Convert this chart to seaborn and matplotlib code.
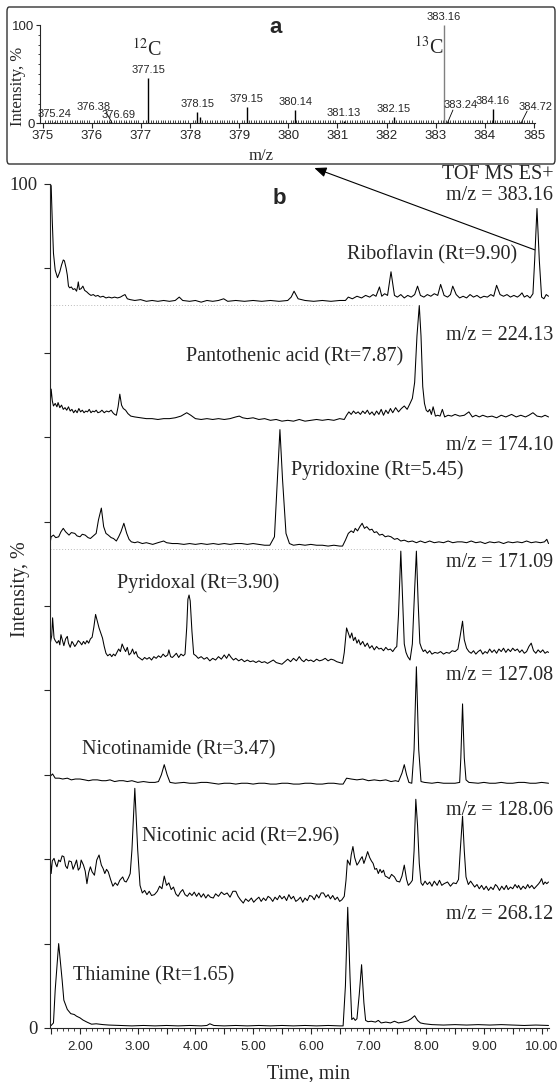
import numpy as np
import pandas as pd
import matplotlib
matplotlib.use('Agg')
import matplotlib.pyplot as plt
import seaborn as sns
from matplotlib.patches import FancyBboxPatch, ConnectionPatch
from matplotlib.ticker import FixedLocator, MultipleLocator, FuncFormatter

# ---------------- data: panel a (mass spectrum) ----------------
MZ = [375.24, 376.38, 376.69, 377.15, 378.15, 378.20, 379.15, 380.14, 381.13, 382.15,
      383.16, 383.24, 384.16, 384.72]
MZ_INT = [1.0, 1.2, 1.0, 45.8, 11.2, 6.5, 16.3, 13.5, 2.5, 6.1, 100.0, 1.5, 14.5, 1.2]
MZ_TEXT = ['375.24', '376.38', '376.69', '377.15', '378.15', '', '379.15', '380.14', '381.13',
           '382.15', '383.16', '383.24', '384.16', '384.72']
A_XTICKS = [375, 376, 377, 378, 379, 380, 381, 382, 383, 384, 385]
A_YTICKS = [0, 100]

# ---------------- data: panel b (chromatograms), (time, intensity) ----------------
RIBOFLAVIN = [(1.48, 100.0), (1.50, 99.8), (1.52, 95.5), (1.54, 91.8), (1.57, 89.8), (1.61, 88.9), (1.65, 89.6),
    (1.68, 90.4), (1.71, 91.0), (1.73, 90.9), (1.76, 90.0), (1.78, 89.2), (1.80, 87.9), (1.82, 87.7), (1.85, 87.8),
    (1.88, 87.5), (1.91, 87.6), (1.94, 87.3), (1.96, 87.9), (1.97, 88.4), (1.99, 87.5), (2.02, 87.6), (2.05, 87.9),
    (2.08, 87.4), (2.12, 87.2), (2.15, 87.0), (2.19, 86.8), (2.23, 86.9), (2.27, 86.7), (2.31, 86.8), (2.35, 86.6),
    (2.40, 86.7), (2.45, 86.5), (2.50, 86.6), (2.55, 86.5), (2.60, 86.6), (2.65, 86.5), (2.70, 86.6), (2.75, 86.8),
    (2.78, 86.9), (2.82, 86.4), (2.87, 86.3), (2.95, 86.2), (3.05, 86.3), (3.15, 86.1), (3.25, 86.2), (3.35, 86.1),
    (3.45, 86.2), (3.55, 86.1), (3.65, 86.2), (3.72, 86.6), (3.78, 86.2), (3.90, 86.1), (4.00, 86.2), (4.10, 86.0),
    (4.20, 86.2), (4.30, 86.1), (4.40, 86.2), (4.49, 86.4), (4.56, 86.1), (4.70, 86.2), (4.85, 86.1), (5.00, 86.2),
    (5.15, 86.1), (5.30, 86.2), (5.45, 86.1), (5.60, 86.2), (5.66, 86.6), (5.71, 87.3), (5.78, 86.4), (5.90, 86.2),
    (6.05, 86.1), (6.20, 86.2), (6.35, 86.1), (6.50, 86.2), (6.60, 86.2), (6.65, 86.6), (6.72, 86.4), (6.80, 86.7),
    (6.88, 86.5), (6.95, 86.8), (7.02, 86.6), (7.08, 86.9), (7.13, 86.7), (7.19, 87.8), (7.23, 86.7), (7.28, 87.0),
    (7.33, 86.8), (7.39, 89.6), (7.45, 86.8), (7.50, 86.6), (7.56, 86.9), (7.62, 86.5), (7.68, 86.8), (7.74, 86.6),
    (7.80, 86.9), (7.85, 87.9), (7.90, 86.8), (7.96, 86.6), (8.02, 86.9), (8.08, 86.7), (8.14, 87.0), (8.20, 86.8),
    (8.25, 88.1), (8.31, 86.8), (8.37, 86.6), (8.42, 86.9), (8.46, 87.9), (8.52, 86.9), (8.58, 86.5), (8.64, 86.7),
    (8.70, 86.5), (8.76, 86.9), (8.82, 86.6), (8.88, 86.8), (8.94, 86.5), (9.00, 86.7), (9.06, 86.6), (9.12, 86.9),
    (9.17, 86.7), (9.22, 88.0), (9.28, 86.9), (9.34, 86.7), (9.40, 86.9), (9.46, 86.6), (9.52, 86.8), (9.58, 86.6),
    (9.62, 86.8), (9.66, 87.1), (9.70, 86.6), (9.75, 86.8), (9.80, 86.5), (9.85, 87.0), (9.88, 91.0), (9.92, 97.1),
    (9.96, 91.0), (10.00, 86.6), (10.04, 86.4), (10.08, 86.9), (10.12, 86.7)]

PANTOTHENIC = [(1.48, 73.6), (1.50, 75.7), (1.52, 74.3), (1.54, 73.7), (1.57, 74.0), (1.60, 73.6), (1.62, 74.1),
    (1.65, 73.5), (1.68, 73.8), (1.71, 73.3), (1.74, 73.5), (1.77, 73.2), (1.80, 73.6), (1.83, 73.1), (1.86, 73.3),
    (1.89, 72.9), (1.92, 73.2), (1.95, 72.9), (1.98, 73.4), (2.01, 73.0), (2.04, 73.2), (2.07, 72.9), (2.10, 73.1),
    (2.13, 73.0), (2.16, 73.3), (2.19, 72.9), (2.22, 73.1), (2.25, 73.0), (2.28, 73.2), (2.31, 72.9), (2.35, 73.0),
    (2.38, 73.2), (2.42, 72.9), (2.46, 73.1), (2.50, 73.0), (2.54, 73.2), (2.57, 72.9), (2.60, 72.7), (2.63, 72.6),
    (2.66, 73.6), (2.69, 75.1), (2.72, 73.8), (2.75, 73.4), (2.79, 73.2), (2.83, 72.8), (2.88, 72.5), (2.95, 72.4),
    (3.05, 72.3), (3.15, 72.2), (3.25, 72.2), (3.35, 72.1), (3.45, 72.2), (3.55, 72.2), (3.65, 72.3), (3.75, 72.5),
    (3.85, 72.9), (3.92, 72.6), (4.00, 72.2), (4.10, 72.1), (4.20, 72.2), (4.30, 72.1), (4.40, 72.2), (4.50, 72.1),
    (4.60, 72.2), (4.70, 72.4), (4.76, 72.5), (4.82, 72.3), (4.90, 72.2), (5.00, 72.3), (5.10, 72.1), (5.20, 72.2),
    (5.30, 72.0), (5.40, 72.1), (5.50, 71.9), (5.60, 72.0), (5.70, 71.9), (5.80, 72.1), (5.90, 71.9), (6.00, 72.0),
    (6.10, 72.1), (6.20, 72.0), (6.30, 72.1), (6.40, 72.0), (6.50, 72.2), (6.58, 72.1), (6.62, 72.6), (6.66, 73.0),
    (6.70, 72.7), (6.74, 73.1), (6.78, 72.8), (6.82, 73.0), (6.86, 72.7), (6.90, 73.1), (6.94, 72.8), (6.98, 73.2),
    (7.02, 72.7), (7.06, 73.0), (7.10, 72.6), (7.14, 73.1), (7.18, 72.7), (7.22, 73.3), (7.26, 72.6), (7.30, 73.2),
    (7.34, 72.8), (7.38, 73.4), (7.42, 72.9), (7.47, 73.5), (7.52, 73.0), (7.57, 73.4), (7.62, 73.7), (7.67, 73.3),
    (7.72, 74.0), (7.76, 74.6), (7.80, 76.5), (7.84, 82.0), (7.88, 85.6), (7.91, 82.0), (7.94, 76.0), (7.97, 74.0),
    (8.00, 73.2), (8.03, 73.0), (8.06, 73.3), (8.09, 72.7), (8.12, 73.6), (8.16, 72.5), (8.20, 72.6), (8.24, 72.5),
    (8.28, 73.3), (8.32, 72.4), (8.38, 72.6), (8.44, 72.5), (8.50, 72.7), (8.58, 72.5), (8.66, 72.6), (8.74, 73.0),
    (8.80, 72.4), (8.86, 72.6), (8.92, 72.4), (8.98, 72.6), (9.06, 72.4), (9.14, 72.5), (9.22, 72.3), (9.30, 72.6),
    (9.38, 72.4), (9.48, 72.7), (9.56, 72.4), (9.64, 72.6), (9.72, 72.4), (9.78, 72.6), (9.85, 72.9), (9.92, 72.5),
    (10.00, 72.4), (10.06, 72.6), (10.12, 72.4)]

PYRIDOXINE = [(1.48, 57.4), (1.50, 58.2), (1.54, 58.4), (1.58, 58.1), (1.63, 58.2), (1.67, 58.8), (1.71, 59.2),
    (1.75, 58.8), (1.81, 58.4), (1.85, 58.7), (1.91, 58.6), (1.95, 58.3), (2.00, 58.2), (2.04, 58.5), (2.09, 58.4),
    (2.14, 58.1), (2.18, 58.0), (2.23, 58.3), (2.28, 58.6), (2.32, 60.2), (2.37, 61.6), (2.41, 59.4), (2.45, 58.6),
    (2.49, 58.4), (2.54, 58.1), (2.58, 58.0), (2.63, 57.7), (2.67, 58.2), (2.71, 58.8), (2.76, 59.8), (2.81, 58.6),
    (2.85, 57.9), (2.89, 57.6), (2.95, 57.5), (3.00, 57.6), (3.08, 57.4), (3.15, 57.5), (3.26, 57.3), (3.35, 57.5),
    (3.45, 57.7), (3.50, 57.5), (3.60, 57.4), (3.69, 57.4), (3.80, 57.3), (3.90, 57.4), (4.00, 57.3), (4.10, 57.4),
    (4.20, 57.3), (4.31, 57.4), (4.40, 57.3), (4.50, 57.4), (4.60, 57.3), (4.70, 57.4), (4.80, 57.4), (4.90, 57.3),
    (5.00, 57.4), (5.10, 57.3), (5.20, 57.2), (5.29, 57.2), (5.37, 58.2), (5.42, 65.0), (5.465, 70.9), (5.51, 65.0),
    (5.57, 58.6), (5.63, 57.4), (5.70, 57.2), (5.80, 57.3), (5.90, 57.2), (6.00, 57.3), (6.10, 57.2), (6.20, 57.2),
    (6.30, 57.1), (6.40, 57.2), (6.50, 57.1), (6.55, 57.1), (6.60, 57.8), (6.65, 58.6), (6.70, 58.9), (6.74, 58.7),
    (6.77, 59.2), (6.81, 58.9), (6.85, 59.4), (6.89, 59.8), (6.93, 59.2), (6.97, 59.4), (7.02, 59.0), (7.06, 59.1),
    (7.10, 58.7), (7.14, 58.8), (7.19, 58.4), (7.24, 58.5), (7.29, 58.2), (7.34, 58.3), (7.39, 58.2), (7.45, 57.9),
    (7.50, 58.0), (7.56, 57.7), (7.62, 57.8), (7.69, 57.6), (7.76, 57.7), (7.83, 57.5), (7.90, 57.7), (7.98, 57.5),
    (8.06, 57.7), (8.14, 57.5), (8.22, 57.6), (8.30, 57.5), (8.38, 57.7), (8.46, 57.5), (8.54, 57.6), (8.62, 57.6),
    (8.70, 57.5), (8.78, 57.7), (8.86, 57.5), (8.94, 57.6), (9.02, 57.4), (9.10, 57.6), (9.18, 57.5), (9.26, 57.6),
    (9.34, 57.4), (9.42, 57.6), (9.50, 57.5), (9.58, 57.6), (9.66, 57.5), (9.74, 57.7), (9.82, 57.5), (9.90, 57.6),
    (9.98, 57.5), (10.05, 57.6), (10.09, 57.9), (10.12, 57.4)]

PYRIDOXAL = [(1.48, 45.4), (1.51, 46.5), (1.525, 48.6), (1.55, 46.2), (1.57, 45.9), (1.60, 45.6), (1.63, 45.9),
    (1.65, 45.4), (1.67, 46.6), (1.70, 45.8), (1.72, 45.3), (1.75, 46.1), (1.78, 46.4), (1.80, 45.6), (1.83, 45.1),
    (1.86, 45.8), (1.88, 45.6), (1.91, 45.2), (1.94, 45.5), (1.97, 45.9), (2.00, 45.7), (2.03, 45.4), (2.06, 45.8),
    (2.09, 45.5), (2.12, 45.9), (2.15, 45.6), (2.18, 46.1), (2.21, 46.3), (2.24, 47.5), (2.27, 49.0), (2.30, 48.2),
    (2.33, 47.4), (2.36, 46.8), (2.39, 46.2), (2.42, 45.2), (2.45, 44.4), (2.48, 44.1), (2.52, 44.3), (2.55, 44.0),
    (2.58, 44.3), (2.61, 44.1), (2.64, 44.5), (2.67, 44.9), (2.70, 44.6), (2.73, 45.5), (2.76, 45.0), (2.79, 44.6),
    (2.82, 45.1), (2.85, 44.2), (2.88, 44.4), (2.91, 44.9), (2.94, 44.3), (2.97, 44.6), (3.00, 44.0), (3.04, 43.8),
    (3.08, 43.6), (3.12, 43.9), (3.16, 43.7), (3.20, 43.9), (3.24, 43.6), (3.28, 44.0), (3.32, 43.8), (3.36, 44.1),
    (3.40, 43.9), (3.44, 44.3), (3.48, 44.0), (3.52, 44.2), (3.54, 44.8), (3.57, 44.0), (3.60, 43.9), (3.63, 44.1),
    (3.67, 44.4), (3.71, 43.9), (3.75, 44.3), (3.79, 44.1), (3.82, 44.3), (3.85, 47.5), (3.87, 50.8), (3.89, 51.3),
    (3.91, 50.6), (3.94, 47.0), (3.97, 44.3), (4.01, 44.1), (4.05, 43.8), (4.10, 44.0), (4.15, 43.7), (4.20, 43.9),
    (4.25, 43.5), (4.30, 43.8), (4.35, 43.6), (4.40, 44.0), (4.45, 43.7), (4.50, 44.2), (4.54, 43.8), (4.58, 44.3),
    (4.62, 43.9), (4.66, 43.6), (4.70, 43.8), (4.75, 43.5), (4.80, 43.7), (4.85, 43.4), (4.90, 43.6), (4.95, 43.4),
    (5.00, 43.5), (5.05, 43.3), (5.10, 43.5), (5.15, 43.3), (5.20, 43.4), (5.25, 43.2), (5.30, 43.4), (5.35, 43.6),
    (5.40, 43.3), (5.45, 43.2), (5.50, 43.1), (5.55, 43.4), (5.60, 43.7), (5.65, 43.4), (5.70, 43.8), (5.75, 43.5),
    (5.80, 44.0), (5.84, 43.6), (5.88, 43.4), (5.92, 43.7), (5.96, 43.5), (6.00, 43.6), (6.05, 43.4), (6.10, 43.7),
    (6.15, 43.5), (6.20, 43.6), (6.25, 43.8), (6.30, 43.5), (6.35, 43.7), (6.40, 43.6), (6.45, 43.4), (6.50, 43.3),
    (6.55, 43.2), (6.58, 44.5), (6.62, 47.4), (6.65, 46.8), (6.68, 46.2), (6.71, 46.8), (6.74, 45.9), (6.77, 46.3),
    (6.80, 45.6), (6.83, 46.0), (6.86, 45.4), (6.90, 45.8), (6.94, 45.2), (6.98, 45.6), (7.02, 45.0), (7.06, 45.3),
    (7.10, 44.8), (7.14, 45.2), (7.18, 44.9), (7.22, 45.0), (7.26, 44.7), (7.30, 45.1), (7.34, 44.8), (7.38, 44.9),
    (7.42, 44.6), (7.46, 45.0), (7.49, 45.2), (7.52, 49.0), (7.56, 56.5), (7.59, 51.0), (7.62, 45.5), (7.65, 44.5),
    (7.68, 44.0), (7.72, 43.6), (7.76, 45.5), (7.80, 52.0), (7.83, 56.5), (7.86, 50.5), (7.89, 45.6), (7.92, 45.0),
    (7.95, 44.6), (7.98, 44.8), (8.02, 44.4), (8.06, 44.7), (8.10, 44.3), (8.15, 44.5), (8.20, 44.4), (8.25, 44.6),
    (8.30, 44.3), (8.35, 44.5), (8.40, 44.4), (8.45, 44.7), (8.50, 44.6), (8.55, 44.9), (8.59, 46.5), (8.63, 48.2),
    (8.66, 46.0), (8.70, 45.0), (8.74, 44.6), (8.78, 44.4), (8.82, 44.7), (8.86, 44.3), (8.90, 44.6), (8.94, 44.8),
    (8.98, 44.3), (9.02, 44.6), (9.06, 44.4), (9.10, 44.9), (9.14, 44.5), (9.18, 44.8), (9.22, 44.4), (9.26, 44.9),
    (9.30, 44.6), (9.34, 45.0), (9.38, 44.5), (9.42, 44.9), (9.46, 44.6), (9.50, 45.0), (9.54, 44.7), (9.58, 44.9),
    (9.62, 44.5), (9.66, 44.8), (9.70, 44.4), (9.74, 44.6), (9.78, 45.2), (9.82, 45.6), (9.86, 44.7), (9.90, 44.4),
    (9.94, 44.8), (9.98, 44.5), (10.02, 44.8), (10.06, 44.4), (10.10, 44.6), (10.12, 44.5)]

NICOTINAMIDE = [(1.48, 29.8), (1.525, 30.1), (1.57, 29.6), (1.64, 29.6), (1.70, 29.5), (1.78, 29.6), (1.85, 29.4),
    (1.92, 29.5), (2.00, 29.5), (2.08, 29.4), (2.15, 29.3), (2.22, 29.4), (2.30, 29.4), (2.38, 29.3), (2.45, 29.3),
    (2.52, 29.4), (2.60, 29.2), (2.68, 29.3), (2.75, 29.3), (2.82, 29.2), (2.90, 29.3), (3.00, 29.1), (3.10, 29.2),
    (3.20, 29.1), (3.30, 29.1), (3.36, 29.2), (3.41, 30.0), (3.46, 31.2), (3.51, 30.0), (3.56, 29.1), (3.65, 29.0),
    (3.80, 29.1), (3.90, 29.0), (4.00, 29.0), (4.10, 29.1), (4.20, 29.1), (4.30, 29.0), (4.40, 28.9), (4.50, 29.0),
    (4.60, 29.0), (4.70, 28.9), (4.80, 29.0), (4.90, 29.0), (5.00, 28.9), (5.10, 29.0), (5.20, 29.0), (5.30, 28.9),
    (5.40, 28.9), (5.50, 29.0), (5.60, 29.0), (5.70, 28.9), (5.80, 28.9), (5.90, 29.0), (6.00, 29.0), (6.10, 28.9),
    (6.20, 28.9), (6.30, 29.0), (6.40, 29.0), (6.50, 28.9), (6.56, 28.9), (6.62, 29.6), (6.70, 29.5), (6.80, 29.4),
    (6.90, 29.5), (7.00, 29.3), (7.10, 29.4), (7.20, 29.3), (7.30, 29.4), (7.39, 29.2), (7.47, 29.3), (7.52, 29.2),
    (7.58, 30.2), (7.62, 31.2), (7.66, 30.0), (7.70, 29.1), (7.75, 29.0), (7.79, 33.0), (7.83, 42.8), (7.87, 33.0),
    (7.91, 29.2), (7.97, 29.1), (8.10, 29.0), (8.20, 29.1), (8.30, 29.0), (8.40, 29.0), (8.50, 29.0), (8.58, 29.1),
    (8.60, 32.0), (8.63, 38.4), (8.66, 32.0), (8.69, 29.4), (8.74, 29.1), (8.90, 29.0), (9.00, 29.1), (9.10, 29.0),
    (9.20, 29.0), (9.30, 29.1), (9.40, 29.0), (9.50, 29.0), (9.60, 29.1), (9.70, 29.1), (9.80, 29.0), (9.90, 29.0),
    (10.00, 29.1), (10.12, 29.0)]

NICOTINIC = [(1.48, 20.7), (1.50, 18.3), (1.52, 19.8), (1.55, 20.1), (1.58, 19.4), (1.60, 19.1), (1.63, 19.9),
    (1.66, 19.7), (1.69, 20.4), (1.72, 20.3), (1.75, 19.2), (1.78, 18.9), (1.81, 19.8), (1.85, 19.7), (1.88, 18.8),
    (1.91, 19.3), (1.94, 19.9), (1.97, 18.7), (2.00, 19.0), (2.02, 19.9), (2.06, 19.3), (2.09, 18.6), (2.12, 17.1),
    (2.15, 18.4), (2.18, 19.1), (2.21, 18.5), (2.25, 18.1), (2.29, 19.9), (2.33, 20.5), (2.37, 19.3), (2.40, 18.9),
    (2.43, 18.3), (2.46, 18.8), (2.49, 18.5), (2.53, 17.6), (2.57, 16.8), (2.61, 17.2), (2.65, 16.9), (2.69, 17.5),
    (2.74, 17.9), (2.77, 17.4), (2.80, 17.3), (2.84, 17.8), (2.87, 18.3), (2.90, 21.1), (2.95, 28.4), (3.00, 21.1),
    (3.04, 16.9), (3.08, 16.0), (3.12, 16.3), (3.16, 15.8), (3.20, 16.2), (3.24, 15.7), (3.29, 15.8), (3.34, 16.2),
    (3.38, 16.8), (3.42, 16.5), (3.46, 18.0), (3.50, 16.9), (3.54, 17.2), (3.58, 16.4), (3.62, 16.7), (3.66, 15.9),
    (3.70, 15.6), (3.74, 16.1), (3.78, 16.4), (3.82, 15.8), (3.86, 15.6), (3.90, 16.0), (3.94, 15.7), (3.98, 16.1),
    (4.02, 15.6), (4.06, 16.0), (4.10, 15.5), (4.14, 15.9), (4.18, 15.4), (4.22, 15.8), (4.26, 15.5), (4.31, 15.4),
    (4.35, 15.9), (4.40, 15.6), (4.45, 16.1), (4.50, 15.8), (4.55, 16.0), (4.60, 15.5), (4.65, 16.2), (4.70, 16.2),
    (4.74, 15.6), (4.78, 15.2), (4.83, 14.8), (4.87, 15.3), (4.92, 15.0), (4.97, 15.4), (5.01, 14.9), (5.05, 15.2),
    (5.10, 15.5), (5.14, 15.0), (5.18, 15.4), (5.22, 15.1), (5.26, 15.6), (5.30, 15.4), (5.34, 15.0), (5.38, 15.5),
    (5.42, 15.2), (5.46, 15.7), (5.50, 15.3), (5.54, 15.6), (5.58, 15.1), (5.62, 15.8), (5.66, 15.3), (5.70, 15.6),
    (5.74, 15.0), (5.78, 15.2), (5.82, 15.5), (5.86, 14.9), (5.90, 15.4), (5.94, 15.1), (5.98, 15.7), (6.02, 15.6),
    (6.06, 15.2), (6.10, 15.8), (6.14, 15.4), (6.18, 16.0), (6.22, 16.0), (6.26, 15.5), (6.30, 15.8), (6.34, 15.3),
    (6.38, 15.7), (6.42, 15.2), (6.46, 15.5), (6.50, 15.0), (6.54, 15.2), (6.58, 15.6), (6.61, 17.5), (6.635, 19.9),
    (6.68, 19.3), (6.70, 20.5), (6.73, 21.5), (6.76, 20.2), (6.80, 19.3), (6.83, 19.6), (6.86, 20.0), (6.89, 20.3),
    (6.92, 19.5), (6.95, 20.1), (6.985, 20.9), (7.02, 20.2), (7.05, 19.8), (7.08, 19.5), (7.11, 18.8), (7.14, 18.9),
    (7.17, 18.3), (7.20, 18.8), (7.23, 18.4), (7.26, 18.7), (7.29, 18.0), (7.32, 17.9), (7.36, 17.7), (7.40, 18.2),
    (7.45, 17.9), (7.49, 17.4), (7.54, 17.3), (7.58, 18.0), (7.62, 19.3), (7.66, 17.6), (7.69, 16.9), (7.73, 17.2),
    (7.76, 17.5), (7.79, 21.0), (7.82, 27.1), (7.85, 24.0), (7.88, 19.5), (7.91, 17.2), (7.94, 16.9), (7.98, 17.4),
    (8.02, 17.0), (8.06, 17.3), (8.10, 16.8), (8.14, 17.4), (8.19, 16.9), (8.23, 17.5), (8.27, 16.9), (8.31, 17.1),
    (8.37, 17.3), (8.42, 16.8), (8.47, 17.2), (8.52, 17.1), (8.56, 17.6), (8.59, 21.0), (8.63, 25.1), (8.66, 21.0),
    (8.69, 17.9), (8.73, 17.0), (8.77, 17.4), (8.80, 17.1), (8.84, 16.7), (8.88, 17.0), (8.92, 16.5), (8.96, 16.9),
    (9.00, 16.4), (9.04, 16.8), (9.08, 16.3), (9.12, 16.7), (9.16, 16.4), (9.20, 17.0), (9.23, 16.8), (9.27, 16.3),
    (9.31, 16.8), (9.35, 16.4), (9.39, 16.9), (9.42, 16.4), (9.46, 16.7), (9.50, 16.5), (9.54, 17.0), (9.58, 16.6),
    (9.60, 16.9), (9.64, 16.4), (9.68, 16.8), (9.72, 16.5), (9.76, 17.0), (9.79, 16.6), (9.83, 16.9), (9.87, 16.5),
    (9.91, 16.8), (9.95, 17.1), (9.98, 17.4), (10.00, 17.7), (10.03, 17.0), (10.06, 17.3), (10.09, 17.1), (10.12, 17.3)]

THIAMINE = [(1.48, 0.2), (1.50, 0.3), (1.54, 0.6), (1.57, 4.5), (1.63, 10.0), (1.69, 5.7), (1.72, 3.3), (1.78, 2.2),
    (1.84, 1.7), (1.90, 1.6), (1.94, 1.4), (2.00, 1.2), (2.05, 0.95), (2.12, 0.7), (2.20, 0.45), (2.28, 0.5),
    (2.40, 0.4), (2.50, 0.35), (2.70, 0.3), (2.90, 0.25), (3.10, 0.3), (3.30, 0.25), (3.50, 0.3), (3.70, 0.25),
    (3.90, 0.3), (4.10, 0.25), (4.20, 0.3), (4.25, 0.5), (4.32, 0.3), (4.50, 0.25), (4.70, 0.3), (4.90, 0.25),
    (5.10, 0.3), (5.30, 0.25), (5.50, 0.3), (5.70, 0.25), (5.90, 0.3), (6.10, 0.25), (6.30, 0.3), (6.50, 0.25),
    (6.56, 0.25), (6.60, 5.0), (6.64, 14.3), (6.68, 6.0), (6.71, 1.0), (6.74, 1.2), (6.77, 0.9), (6.80, 1.1),
    (6.84, 4.0), (6.88, 7.5), (6.92, 3.0), (6.95, 0.9), (6.99, 0.75), (7.05, 0.8), (7.12, 0.7), (7.17, 0.9),
    (7.22, 0.6), (7.30, 0.7), (7.38, 0.6), (7.45, 0.8), (7.52, 0.6), (7.60, 0.7), (7.68, 0.85), (7.74, 1.1),
    (7.80, 1.45), (7.85, 0.9), (7.90, 0.6), (7.97, 0.5), (8.10, 0.4), (8.30, 0.35), (8.50, 0.4), (8.70, 0.35),
    (8.90, 0.4), (9.10, 0.35), (9.30, 0.4), (9.50, 0.35), (9.70, 0.3), (9.90, 0.35), (10.12, 0.3)]

TRACE_NAMES = ['Riboflavin (Rt=9.90)', 'Pantothenic acid (Rt=7.87)', 'Pyridoxine (Rt=5.45)',
               'Pyridoxal (Rt=3.90)', 'Nicotinamide (Rt=3.47)', 'Nicotinic acid (Rt=2.96)', 'Thiamine (Rt=1.65)']
TRACE_MZ = ['m/z = 383.16', 'm/z = 224.13', 'm/z = 174.10', 'm/z = 171.09', 'm/z = 127.08',
            'm/z = 128.06', 'm/z = 268.12']
TRACES = [RIBOFLAVIN, PANTOTHENIC, PYRIDOXINE, PYRIDOXAL, NICOTINAMIDE, NICOTINIC, THIAMINE]
B_XTICKS = [2, 3, 4, 5, 6, 7, 8, 9, 10]
B_YTICKS = [0, 100]
SEPARATOR_Y = [85.7, 56.8]
SEPARATOR_END = [7.75, 7.50]

# ---------------- style ----------------
sns.set_style('ticks')
SERIF = ['Liberation Serif', 'DejaVu Serif']
NARROW = ['Liberation Sans Narrow', 'Liberation Sans', 'DejaVu Sans']
SANS = ['Liberation Sans', 'DejaVu Sans']
plt.rcParams['font.family'] = SERIF
plt.rcParams['mathtext.fontset'] = 'stix'
plt.rcParams['axes.linewidth'] = 0.8

W, H = 557, 1082
fig = plt.figure(figsize=(W / 100, H / 100), dpi=100)

def fx(px):
    return px / W

def fy(py):
    return 1 - py / H

# ---------------- panel a ----------------
a_l, a_r, a_t, a_b = 40.2, 535.0, 25.0, 123.3
axa = fig.add_axes([fx(a_l), fy(a_b), (a_r - a_l) / W, (a_b - a_t) / H])
colors = ['#808080' if m == 383.16 else 'black' for m in MZ]
axa.vlines(MZ, 0, MZ_INT, colors=colors, lw=1.0)
axa.set_xlim(374.95, 385.02)
axa.set_ylim(0, 100)
sns.despine(ax=axa)
axa.xaxis.set_major_locator(FixedLocator(A_XTICKS))
axa.xaxis.set_minor_locator(MultipleLocator(0.05))
axa.yaxis.set_major_locator(FixedLocator(A_YTICKS))
axa.yaxis.set_minor_locator(MultipleLocator(10))
axa.tick_params(axis='x', which='major', direction='out', length=3.5, width=0.8, pad=1,
                labelsize=9.5, labelfontfamily=NARROW)
axa.tick_params(axis='x', which='minor', direction='in', length=2, width=0.6)
axa.tick_params(axis='y', which='major', direction='out', length=3, width=0.8, pad=1,
                labelsize=9.5, labelfontfamily=NARROW)
axa.tick_params(axis='y', which='minor', direction='out', length=1.5, width=0.6)

label_pos = {376.38: (376.04, 11.3), 376.69: (376.55, 2.9), 383.24: (383.50, 13.3), 384.72: (385.03, 11.8)}
leaders = {376.38: ((376.29, 11.5), (376.41, 0.6)), 383.24: ((383.35, 13.5), (383.24, 0.6)),
           384.72: ((384.86, 12.5), (384.74, 0.6))}
for m, v, s in zip(MZ, MZ_INT, MZ_TEXT):
    if not s:
        continue
    xpos, ypos = label_pos.get(m, (m, v + 3.0))
    axa.text(xpos, ypos, s, ha='center', va='bottom', fontsize=8, family=NARROW)
    if m in leaders:
        (x0, y0), (x1, y1) = leaders[m]
        axa.plot([x0, x1], [y0, y1], color='black', lw=0.6)

axa.text(377.12, 74.6, r'$^{12}$C', ha='center', va='center', fontsize=14.5, family=SERIF)
axa.text(382.85, 76.6, r'$^{13}$C', ha='center', va='center', fontsize=14.5, family=SERIF)
axa.text(379.73, 97, 'a', ha='center', va='center', fontsize=16, fontweight='bold', family=SANS)
axa.set_xlabel('m/z', fontsize=12, family=SERIF)
axa.xaxis.set_label_coords(0.447, -0.25)
axa.set_ylabel('Intensity, %', fontsize=12, family=SERIF)
axa.yaxis.set_label_coords(-0.028, 0.38)

box = FancyBboxPatch((fx(7), fy(164)), fx(555) - fx(7), fy(7) - fy(164),
                     boxstyle='round,pad=0,rounding_size=0.004', transform=fig.transFigure,
                     fill=False, ec='#333333', lw=1.0)
fig.add_artist(box)

# ---------------- panel b ----------------
b_l, b_r, b_t, b_b = 50.0, 549.1, 184.0, 1028.0
axb = fig.add_axes([fx(b_l), fy(b_b), (b_r - b_l) / W, (b_b - b_t) / H])
rows = []
for name, pts in zip(TRACE_NAMES, TRACES):
    for t, y in pts:
        rows.append((name, t, y))
df = pd.DataFrame(rows, columns=['trace', 'time', 'intensity'])
sns.lineplot(data=df, x='time', y='intensity', units='trace', estimator=None, sort=False,
             color='black', linewidth=0.75, ax=axb, legend=False)
for y, xe in zip(SEPARATOR_Y, SEPARATOR_END):
    axb.plot([1.48, xe], [y, y], color='#bbbbbb', lw=0.7, ls=(0, (1, 2)), zorder=0)

axb.set_xlim(1.48, 10.13)
axb.set_ylim(0, 100)
sns.despine(ax=axb)
axb.xaxis.set_major_locator(FixedLocator(np.arange(1.5, 10.01, 0.5)))
axb.xaxis.set_major_formatter(FuncFormatter(
    lambda v, p: ('%.2f' % v) if abs(v - round(v)) < 1e-6 and round(v) in B_XTICKS else ''))
axb.xaxis.set_minor_locator(MultipleLocator(0.1))
axb.yaxis.set_major_locator(MultipleLocator(10))
axb.yaxis.set_major_formatter(FuncFormatter(lambda v, p: ('%d' % round(v)) if round(v) in B_YTICKS else ''))
axb.tick_params(axis='x', which='major', direction='out', length=4.3, width=0.8, pad=4.8,
                labelsize=9.5, labelfontfamily=NARROW)
axb.tick_params(axis='x', which='minor', direction='out', length=2.4, width=0.6)
axb.tick_params(axis='y', which='major', direction='out', length=4.1, width=0.8, pad=5,
                labelsize=13.5, labelfontfamily=SERIF)
axb.set_xlabel('Time, min', fontsize=14.5, family=SERIF)
axb.xaxis.set_label_coords(0.517, -0.043)
axb.set_ylabel('Intensity, %', fontsize=14.5, family=SERIF)
axb.yaxis.set_label_coords(-0.040, 0.52)

name_pos = [(9.57, 91.6, 'right'), (7.60, 79.5, 'right'), (5.66, 66.1, 'left'), (2.64, 52.7, 'left'),
            (2.03, 32.9, 'left'), (3.07, 22.6, 'left'), (1.88, 6.2, 'left')]
mz_y = [98.6, 82.1, 69.0, 55.1, 41.8, 25.8, 13.4]
for name, (x, y, ha) in zip(TRACE_NAMES, name_pos):
    axb.text(x, y, name, ha=ha, va='center', fontsize=14.5, family=SERIF)
for lab, y in zip(TRACE_MZ, mz_y):
    axb.text(10.2, y, lab, ha='right', va='center', fontsize=14.5, family=SERIF, clip_on=False)
axb.text(10.2, 101.1, 'TOF MS ES+', ha='right', va='center', fontsize=14.5, family=SERIF, clip_on=False)
axb.text(5.45, 98.3, 'b', ha='center', va='center', fontsize=16, fontweight='bold', family=SANS)

con = ConnectionPatch(xyA=(9.88, 92.2), coordsA=axb.transData, xyB=(380.53, -45.5), coordsB=axa.transData,
                      arrowstyle='-|>,head_length=0.6,head_width=0.25', mutation_scale=12,
                      lw=0.8, color='black')
fig.add_artist(con)

fig.savefig('out.png', dpi=100)
